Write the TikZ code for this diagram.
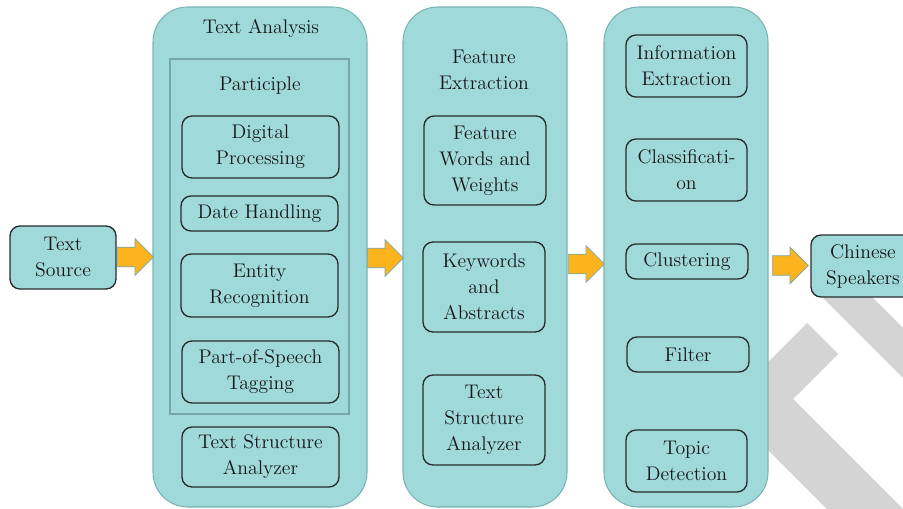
\documentclass[tikz,border=0pt]{standalone}
\usetikzlibrary{shapes.arrows}
\definecolor{panelfill}{RGB}{159,217,217}
\definecolor{panelline}{RGB}{122,180,180}
\definecolor{frameline}{RGB}{118,166,166}
\definecolor{boxline}{RGB}{40,44,44}
\definecolor{txt}{RGB}{22,22,22}
\definecolor{arrowfill}{RGB}{252,180,30}
\definecolor{arrowline}{RGB}{118,168,168}
\definecolor{markgray}{RGB}{212,212,212}
\begin{document}
\begin{tikzpicture}[x=0.75pt,y=-0.75pt,
  lbl/.style={font=\fontsize{14.8}{19.5}\selectfont, text=txt, align=center},
  panel/.style 2 args={draw=panelline, fill=panelfill, line width=0.8pt,
    rounded corners=26pt, minimum width=#1*0.75pt, minimum height=#2*0.75pt, inner sep=0pt},
  frame/.style 2 args={draw=frameline, line width=1.2pt,
    minimum width=#1*0.75pt, minimum height=#2*0.75pt, inner sep=0pt},
  item/.style 2 args={lbl, draw=boxline, fill=panelfill, line width=1pt,
    rounded corners=7.5pt, minimum width=#1*0.75pt, minimum height=#2*0.75pt, inner sep=0pt},
  blockarrow/.style={shape=single arrow, fill=arrowfill, draw=arrowline, line width=0.5pt,
    inner sep=0pt, inner ysep=7.1pt, minimum height=27pt, anchor=tail,
    single arrow head extend=6.4pt, single arrow tip angle=90},
]
\useasboundingbox (0,0) rectangle (903,508);
\clip (0,0) rectangle (903,508);

% grey chevron marks in the lower right corner
\fill[markgray] (807,323) -- (838,354) -- (793,399) -- (930,536) -- (854,536) -- (724,406) -- cycle;
\fill[markgray] (816,291) -- (841,266) -- (1141,566) -- (1116,591) -- cycle;

% source
\node[item={106}{63}] (src) at (63,257.5) {Text\\Source};

% panel 1: text analysis
\node[panel={214}{500}] (p1) at (260,257) {};
\node[lbl] (p1t) at (261,28) {Text Analysis};
\node[frame={179}{355}] (part) at (259.5,236.5) {};
\node[lbl] (partt) at (260,86) {Participle};
\node[item={157}{62}] (dp) at (260.5,147) {Digital\\Processing};
\node[item={157}{35}] (dh) at (259.5,213.5) {Date Handling};
\node[item={157}{63}] (er) at (259.5,285.5) {Entity\\Recognition};
\node[item={157}{62}] (pos) at (260.5,372) {Part-of-Speech\\Tagging};
\node[item={157}{60}] (tsa) at (260.5,457) {Text Structure\\Analyzer};

% panel 2: feature extraction
\node[panel={164}{500}] (p2) at (485,257) {};
\node[lbl] (p2t) at (484,70) {Feature\\Extraction};
\node[item={122}{89}] (fww) at (485,160.5) {Feature\\Words and\\Weights};
\node[item={122}{90}] (kwa) at (484,287) {Keywords\\and\\Abstracts};
\node[item={122}{90}] (tsb) at (484,420) {Text\\Structure\\Analyzer};

% panel 3: mining tasks
\node[panel={164}{500}] (p3) at (686,257) {};
\node[item={121}{62}] (ie) at (686.5,66) {Information\\Extraction};
\node[item={121}{62}] (cls) at (686.5,170) {Classificati-\\on};
\node[item={122}{35}] (clu) at (687,261.5) {Clustering};
\node[item={122}{35}] (fil) at (688,354.5) {Filter};
\node[item={121}{62}] (td) at (686.5,461) {Topic\\Detection};

% result
\node[item={104}{62}] (cs) at (863,266) {Chinese\\Speakers};

% flow arrows, placed by their tails
\node[blockarrow] (a1) at (117,257) {};
\node[blockarrow] (a2) at (367,258) {};
\node[blockarrow] (a3) at (568,264) {};
\node[blockarrow] (a4) at (772,265.5) {};
\end{tikzpicture}
\end{document}
